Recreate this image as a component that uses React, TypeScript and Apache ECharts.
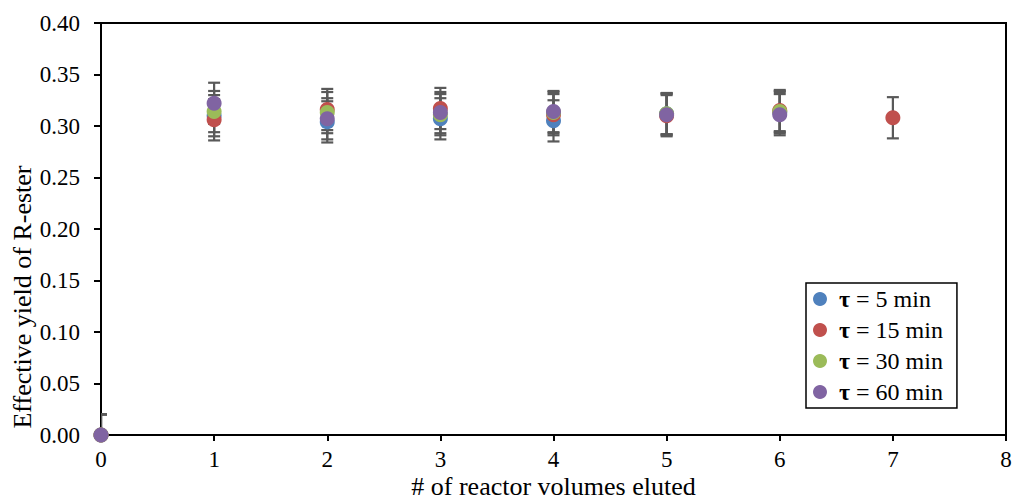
import React, { useEffect, useRef } from "react";
import * as echarts from "echarts";

const seriesNames = ["5 min", "15 min", "30 min", "60 min"];
const seriesColors = ["#4F81BD", "#C0504D", "#9BBB59", "#8064A2"];

const xVolumes5 = [0, 1, 2, 3, 4, 5, 6];
const yield5 = [0, 0.31, 0.304, 0.307, 0.305, 0.312, 0.313];
const xVolumes15 = [0, 1, 2, 3, 4, 5, 6, 7];
const yield15 = [0, 0.306, 0.316, 0.317, 0.311, 0.31, 0.315, 0.308];
const xVolumes30 = [0, 1, 2, 3, 4, 5, 6];
const yield30 = [0, 0.314, 0.313, 0.311, 0.313, 0.312, 0.314];
const xVolumes60 = [0, 1, 2, 3, 4, 5, 6];
const yield60 = [0, 0.322, 0.307, 0.313, 0.314, 0.311, 0.311];
const errorBar = 0.02;

const xTicks = { min: 0, max: 8, interval: 1 };
const yTicks = { min: 0, max: 0.4, interval: 0.05 };

const FONT = "'Liberation Serif', 'Times New Roman', serif";

export default function App() {
  const ref = useRef<HTMLDivElement>(null);
  useEffect(() => {
    if (!ref.current) return;
    const chart = echarts.init(ref.current, undefined, { renderer: "svg" });
    const xs = [xVolumes5, xVolumes15, xVolumes30, xVolumes60];
    const ys = [yield5, yield15, yield30, yield60];
    const series: any[] = [];
    seriesNames.forEach((name, i) => {
      series.push({
        name: "err-" + name,
        type: "custom",
        clip: true,
        silent: true,
        encode: { x: 0, y: 1 },
        data: xs[i].map((x, k) => [x, ys[i][k], errorBar]),
        renderItem: (params: any, api: any) => {
          const x = api.value(0);
          const y = api.value(1);
          const e = api.value(2);
          const top = api.coord([x, y + e]);
          const bot = api.coord([x, y - e]);
          const hw = 6;
          const style = { stroke: "#595959", lineWidth: 2.2 };
          return {
            type: "group",
            children: [
              { type: "line", shape: { x1: top[0], y1: top[1], x2: bot[0], y2: bot[1] }, style },
              { type: "line", shape: { x1: top[0] - hw, y1: top[1], x2: top[0] + hw, y2: top[1] }, style },
              { type: "line", shape: { x1: bot[0] - hw, y1: bot[1], x2: bot[0] + hw, y2: bot[1] }, style },
            ],
          };
        },
      });
      series.push({
        name,
        type: "scatter",
        clip: false,
        symbol: "circle",
        symbolSize: 15,
        itemStyle: { color: seriesColors[i], opacity: 1 },
        data: xs[i].map((x, k) => [x, ys[i][k]]),
      });
    });

    chart.setOption({
      animation: false,
      grid: {
        left: 101,
        right: 7,
        top: 23,
        bottom: 64,
        outerBoundsMode: "none",
        containLabel: false,
        show: true,
        borderColor: "#000",
        borderWidth: 2,
        backgroundColor: "transparent",
      },
      xAxis: {
        type: "value",
        min: xTicks.min,
        max: xTicks.max,
        interval: xTicks.interval,
        name: "# of reactor volumes eluted",
        nameLocation: "middle",
        nameGap: 38,
        nameMoveOverlap: false,
        nameTextStyle: { fontFamily: FONT, fontSize: 26, lineHeight: 26, color: "#000" },
        axisLine: { show: true, onZero: false, lineStyle: { color: "#000", width: 2 } },
        axisTick: { show: true, inside: false, length: 6, lineStyle: { color: "#000", width: 2 } },
        axisLabel: { fontFamily: FONT, fontSize: 23, lineHeight: 23, color: "#000", margin: 13 },
        splitLine: { show: false },
      },
      yAxis: {
        type: "value",
        min: yTicks.min,
        max: yTicks.max,
        interval: yTicks.interval,
        axisLine: { show: true, onZero: false, lineStyle: { color: "#000", width: 2 } },
        axisTick: { show: true, inside: false, length: 7, lineStyle: { color: "#000", width: 2 } },
        axisLabel: {
          fontFamily: FONT,
          fontSize: 23,
          color: "#000",
          margin: 21,
          formatter: (v: number) => v.toFixed(2),
        },
        splitLine: { show: false },
      },
      legend: {
        orient: "vertical",
        left: 806,
        top: 283,
        data: seriesNames,
        icon: "circle",
        itemWidth: 28,
        itemHeight: 14,
        itemGap: 7,
        padding: [4, 14, 4, 7],
        borderColor: "#000",
        borderWidth: 1.5,
        backgroundColor: "#fff",
        formatter: (name: string) => "{b|τ} = " + name,
        textStyle: {
          fontFamily: FONT,
          fontSize: 24,
          lineHeight: 23,
          color: "#000",
          rich: {
            b: { fontFamily: FONT, fontSize: 24, fontWeight: "bold", color: "#000", lineHeight: 23 },
          },
        },
      },
      graphic: [
        {
          type: "text",
          x: 22,
          y: 297,
          rotation: Math.PI / 2,
          style: {
            text: "Effective yield of R-ester",
            font: "26px " + FONT,
            fill: "#000",
            align: "center",
            verticalAlign: "middle",
          },
        },
      ],
      series,
    });
    return () => chart.dispose();
  }, []);
  return <div ref={ref} style={{ width: 1013, height: 499, position: "absolute", left: 0, top: 0 }} />;
}
